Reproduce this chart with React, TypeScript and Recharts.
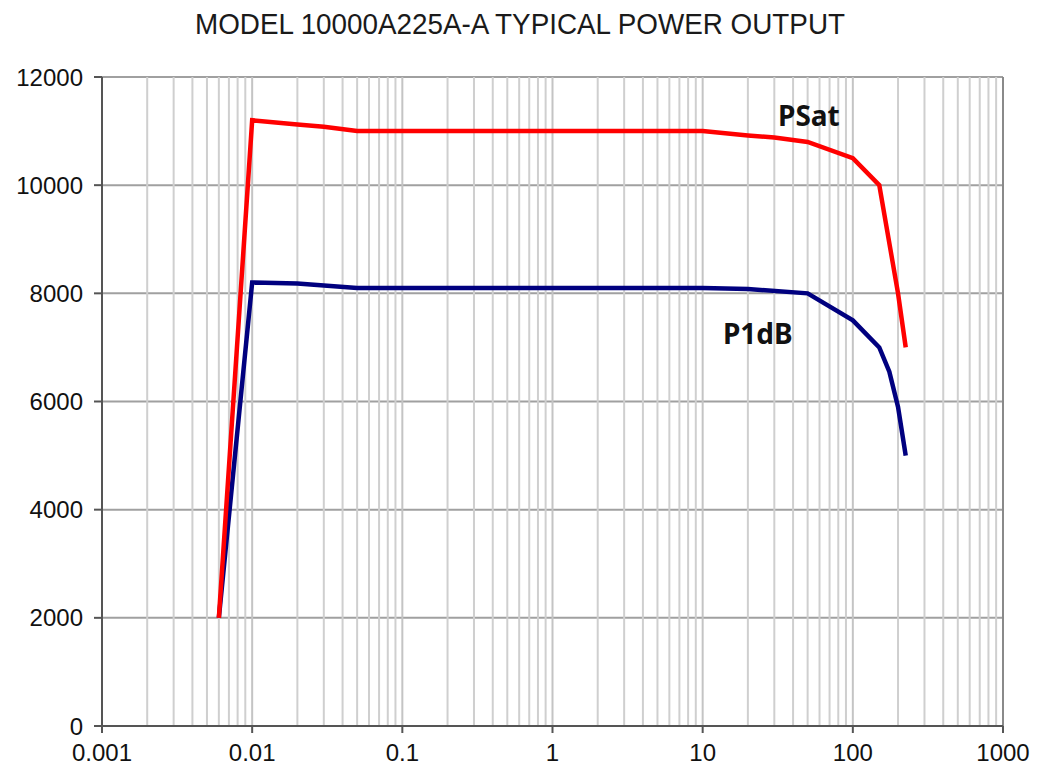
import React from 'react';
import { CartesianGrid, Line, LineChart, ReferenceDot, ReferenceLine, XAxis, YAxis } from 'recharts';

// frequency (MHz) on a log axis, power (W)
const xTicks = [0.001, 0.01, 0.1, 1, 10, 100, 1000];
const yTicks = [0, 2000, 4000, 6000, 8000, 10000, 12000];
const decadeStarts = [0.001, 0.01, 0.1, 1, 10, 100];
const minorSteps = [2, 3, 4, 5, 6, 7, 8, 9];

const psatFreq = [0.006, 0.01, 0.02, 0.03, 0.05, 10, 20, 30, 50, 100, 150, 200, 225];
const psatPower = [2000, 11200, 11120, 11080, 11000, 11000, 10920, 10880, 10800, 10500, 10000, 8000, 7000];

const p1dbFreq = [0.006, 0.01, 0.02, 0.05, 10, 20, 50, 100, 150, 175, 200, 225];
const p1dbPower = [2000, 8200, 8180, 8100, 8100, 8080, 8000, 7500, 7000, 6550, 5900, 5000];

const TITLE = 'MODEL 10000A225A-A TYPICAL POWER OUTPUT';

const psatData = psatFreq.map((f, i) => ({ f, p: psatPower[i] }));
const p1dbData = p1dbFreq.map((f, i) => ({ f, p: p1dbPower[i] }));

const minorLines = decadeStarts.flatMap((d) => minorSteps.map((m) => +(d * m).toPrecision(3)));

const tickFont = { fontFamily: '"Liberation Sans", Arial, sans-serif', fontSize: 24, fill: '#111' };
const noteFont = { fontFamily: '"Noto Sans", sans-serif', fontSize: 28, fontWeight: 700, fill: '#111' };

const App = () => {
  return (
    <div style={{ position: 'absolute', left: 0, top: 0, width: 1040, height: 774, background: '#fff' }}>
      <svg width={1040} height={60} style={{ position: 'absolute', left: 0, top: 0 }}>
        <text
          x={520}
          y={34}
          textAnchor="middle"
          textLength={650}
          lengthAdjust="spacingAndGlyphs"
          style={{ fontFamily: '"Liberation Sans", Arial, sans-serif', fontSize: 29, fill: '#1a1a1a' }}
        >
          {TITLE}
        </text>
      </svg>
      <LineChart width={1040} height={774} margin={{ top: 77, right: 37, bottom: 0, left: 22 }}>
        {minorLines.map((v) => (
          <ReferenceLine key={v} x={v} stroke="#cfcfcf" strokeWidth={2} />
        ))}
        {xTicks.slice(1, -1).map((v) => (
          <ReferenceLine key={`d${v}`} x={v} stroke="#c4c4c4" strokeWidth={2} />
        ))}
        <CartesianGrid vertical={false} stroke="#a0a0a0" strokeWidth={2} />
        <ReferenceLine x={1000} stroke="#8a8a8a" strokeWidth={2} />
        <XAxis
          type="number"
          dataKey="f"
          scale="log"
          domain={[0.001, 1000]}
          ticks={xTicks}
          allowDataOverflow
          height={48}
          tickSize={7}
          tickMargin={11}
          stroke="#555"
          strokeWidth={2}
          tick={tickFont}
          tickFormatter={(v: number) => String(v)}
        />
        <YAxis
          type="number"
          domain={[0, 12000]}
          ticks={yTicks}
          width={80}
          tickSize={8}
          tickMargin={11}
          stroke="#555"
          strokeWidth={2}
          tick={tickFont}
        />
        <Line
          data={p1dbData}
          dataKey="p"
          name="P1dB"
          type="linear"
          stroke="#00007f"
          strokeWidth={4.5}
          dot={false}
          isAnimationActive={false}
        />
        <Line
          data={psatData}
          dataKey="p"
          name="PSat"
          type="linear"
          stroke="#ff0000"
          strokeWidth={4.5}
          dot={false}
          isAnimationActive={false}
        />
        <ReferenceDot
          x={51}
          y={11280}
          r={0}
          stroke="none"
          label={{ value: 'PSat', position: 'center', style: noteFont }}
        />
        <ReferenceDot
          x={23.3}
          y={7240}
          r={0}
          stroke="none"
          label={{ value: 'P1dB', position: 'center', style: noteFont }}
        />
      </LineChart>
    </div>
  );
};

export default App;
